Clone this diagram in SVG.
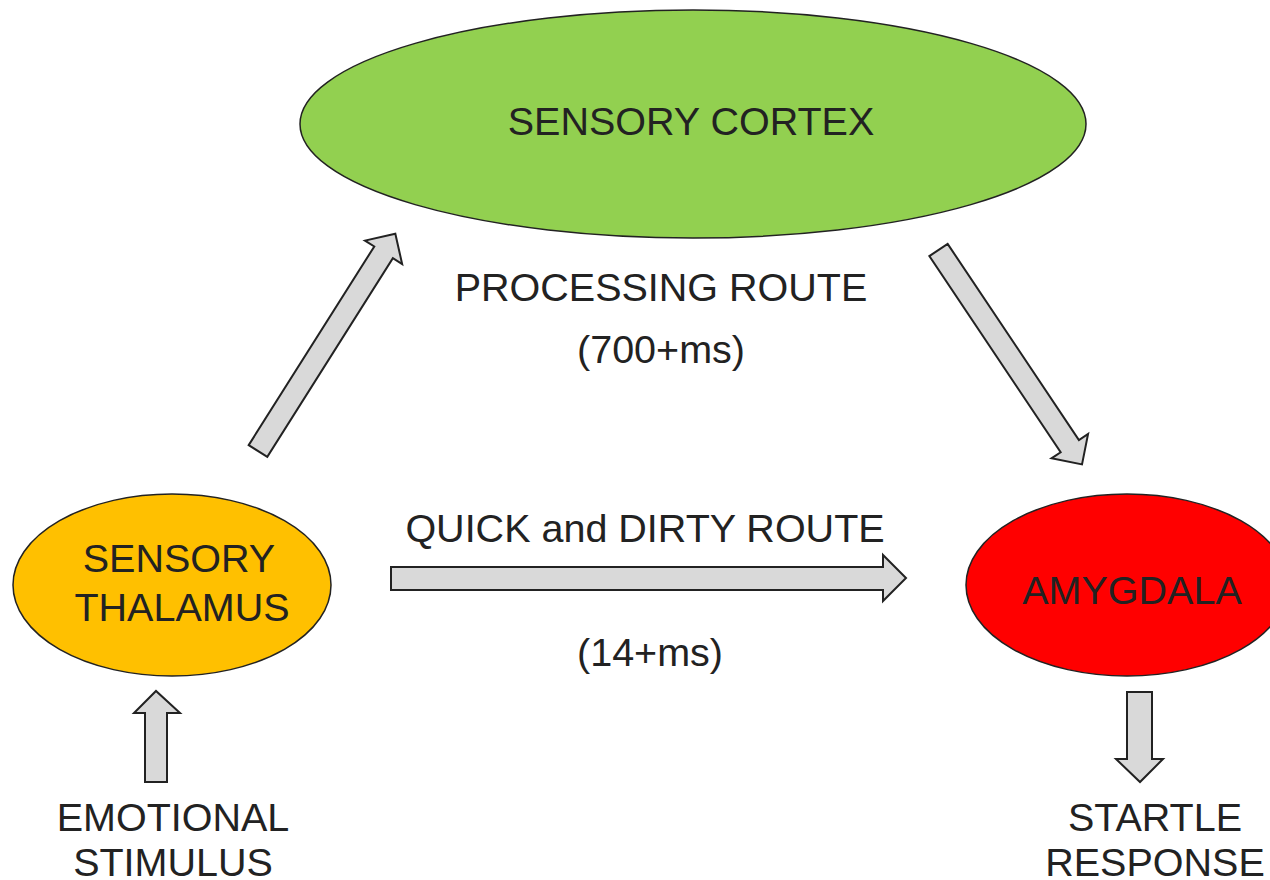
<svg xmlns="http://www.w3.org/2000/svg" width="1270" height="880" viewBox="0 0 1270 880">
<style>
.node{stroke:#222;stroke-width:1.5}
.arr{fill:#D9D9D9;stroke:#222;stroke-width:2;stroke-linejoin:miter}
text{font-family:"Liberation Sans",Arial,sans-serif;font-size:39.5px;fill:#222;text-anchor:middle}
</style>
<rect width="1270" height="880" fill="#fff"/>
<g id="connectors">
<path class="arr" transform="translate(258,451) rotate(-57.7)" d="M0,-11 L235,-11 L235,-22 L257,0 L235,22 L235,11 L0,11 Z"/>
<path class="arr" transform="translate(938.5,250) rotate(56.2)" d="M0,-11 L236,-11 L236,-22 L258,0 L236,22 L236,11 L0,11 Z"/>
<path class="arr" d="M391,567 L883,567 L883,555 L906,578 L883,601 L883,590 L391,590 Z"/>
<path class="arr" d="M145,782 L145,713 L134,713 L156,691 L180,713 L167,713 L167,782 Z"/>
<path class="arr" d="M1127,692 L1152,692 L1152,759 L1163,759 L1140,782 L1116,759 L1127,759 Z"/>
</g>
<g id="cortex">
<ellipse class="node" cx="693" cy="124" rx="393" ry="114" fill="#92D050"/>
<text x="691" y="135">SENSORY CORTEX</text>
</g>
<g id="thalamus">
<ellipse class="node" cx="172" cy="585" rx="159" ry="91" fill="#FFC000"/>
<text x="179" y="572">SENSORY</text>
<text x="182" y="621">THALAMUS</text>
</g>
<g id="amygdala">
<ellipse class="node" cx="1127" cy="585" rx="161" ry="91" fill="#FF0000"/>
<text x="1132" y="604">AMYGDALA</text>
</g>
<g id="labels">
<text x="661" y="301">PROCESSING ROUTE</text>
<text x="661" y="363">(700+ms)</text>
<text x="645" y="542">QUICK and DIRTY ROUTE</text>
<text x="650" y="666">(14+ms)</text>
</g>
<g id="stimulus">
<text x="173" y="831">EMOTIONAL</text>
<text x="173" y="876">STIMULUS</text>
</g>
<g id="response">
<text x="1155" y="831">STARTLE</text>
<text x="1155" y="876">RESPONSE</text>
</g>
</svg>
